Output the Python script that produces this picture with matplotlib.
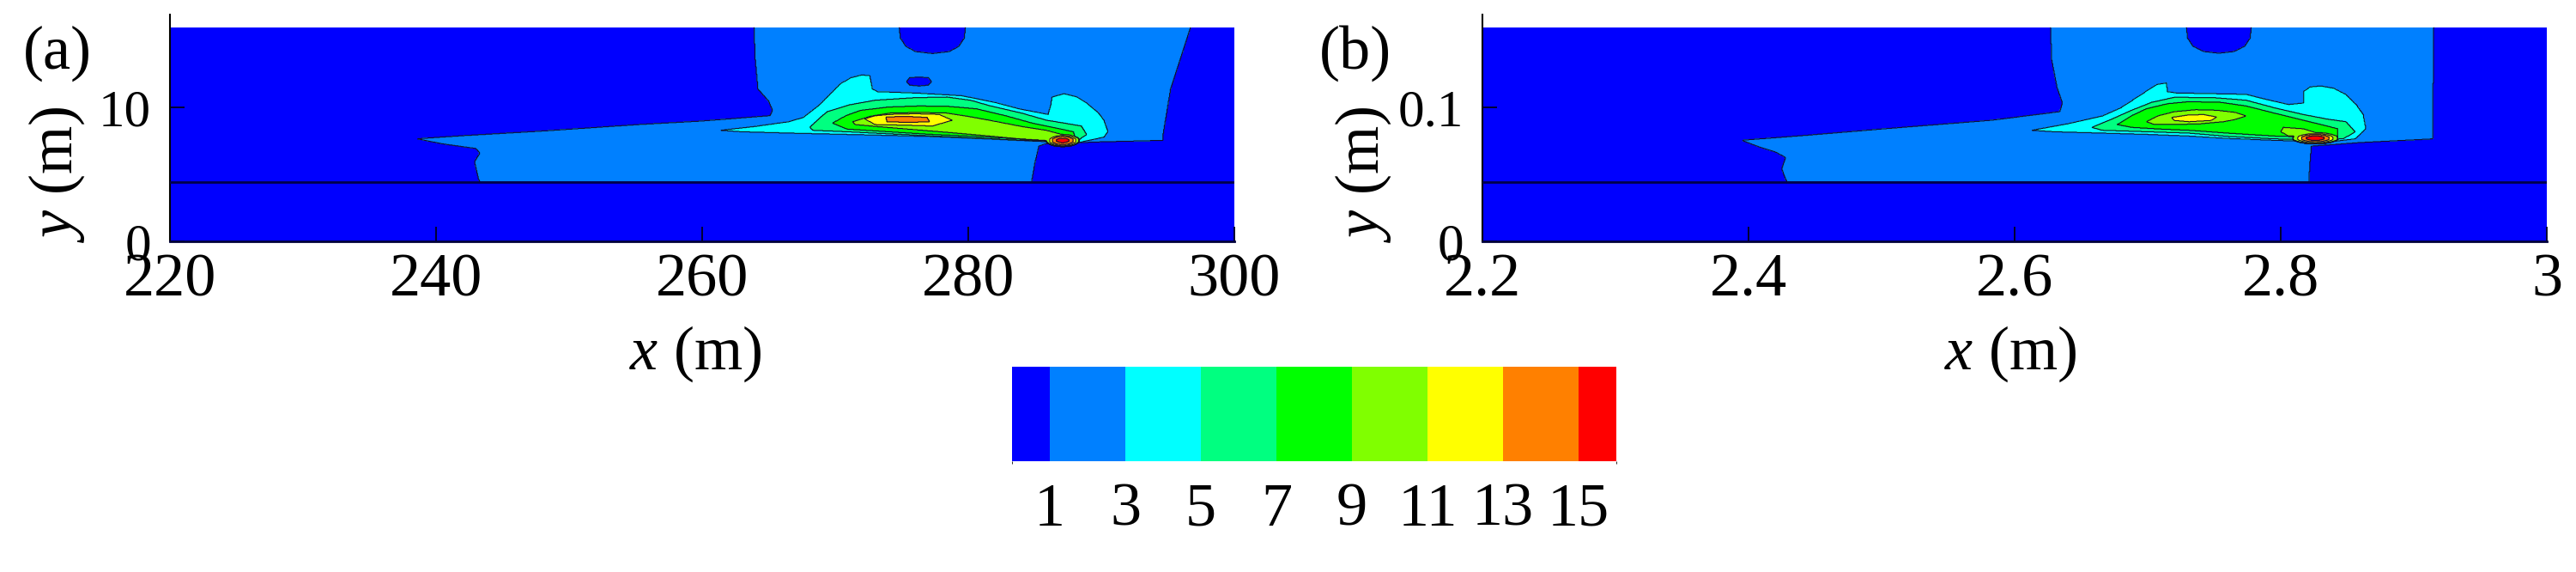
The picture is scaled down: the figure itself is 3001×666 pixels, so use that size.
import numpy as np
import matplotlib
matplotlib.use("Agg")
import matplotlib.pyplot as plt
from matplotlib.path import Path
from matplotlib.patches import Ellipse
from matplotlib.colors import ListedColormap, BoundaryNorm
from matplotlib.cm import ScalarMappable

plt.rcParams['font.family'] = ['Liberation Serif', 'DejaVu Serif']
plt.rcParams['mathtext.fontset'] = 'custom'
plt.rcParams['mathtext.it'] = 'Liberation Serif:italic'
plt.rcParams['mathtext.rm'] = 'Liberation Serif'

# ---------------- data ----------------
LEVELS = [0, 1, 3, 5, 7, 9, 11, 13, 15, 16]
CBAR_TICKS = [1, 3, 5, 7, 9, 11, 13, 15]
COLORS = ['#0000FF', '#0080FF', '#00FFFF', '#00FF80', '#00FF00',
          '#80FF00', '#FFFF00', '#FF8000', '#FF0000']
BACKGROUND = 0.5

# Panel (a): prototype scale
A_XLIM = [220, 300]
A_YTOP = 16.0
A_XTICKS = [220, 240, 260, 280, 300]
A_XTICKLABELS = ['220', '240', '260', '280', '300']
A_YTICKS = [0, 10]
A_YTICKLABELS = ['0', '10']
A_LINE_Y = 4.45

A_LIGHT = [(263.9, 16.0), (264.0, 13.6), (264.2, 11.4), (265.0, 10.5), (265.3, 9.8),
           (265.1, 9.4), (260.0, 9.0), (255.3, 8.74), (248.0, 8.25), (242.0, 7.9),
           (238.6, 7.67), (240.5, 7.3), (243.0, 6.95), (243.3, 6.6), (242.9, 5.96),
           (243.2, 4.67), (243.3, 4.45), (284.75, 4.45), (285.0, 5.85), (285.3, 7.13),
           (285.8, 7.3), (290.0, 7.45), (294.6, 7.56), (294.6, 7.78), (295.2, 11.4),
           (296.7, 16.0)]
A_CAP = [(274.8, 16.0), (274.9, 15.2), (275.3, 14.6), (276.0, 14.2), (277.3, 14.05),
         (278.6, 14.2), (279.3, 14.6), (279.7, 15.2), (279.8, 16.0)]
A_DOT = [(275.35, 11.95), (275.6, 12.25), (276.3, 12.3), (277.0, 12.25), (277.25, 11.95),
         (277.0, 11.68), (276.3, 11.62), (275.6, 11.68)]
A_CYAN = [(261.4, 8.31), (264.0, 8.6), (266.5, 8.95), (267.6, 9.27), (268.8, 10.2),
          (269.6, 11.0), (270.4, 11.8), (271.2, 12.25), (272.0, 12.45), (272.6, 12.4),
          (272.7, 11.9), (272.8, 11.4), (273.2, 11.2), (276.0, 11.1), (279.5, 10.9),
          (282.0, 10.4), (283.8, 9.92), (286.0, 9.5), (286.2, 10.2), (286.3, 10.8),
          (287.2, 11.05), (288.2, 10.8), (288.9, 10.35), (289.8, 9.6), (290.2, 9.06),
          (290.5, 8.2), (290.2, 7.8), (289.6, 7.67), (288.1, 7.35), (285.0, 7.5),
          (281.6, 7.67), (277.0, 7.85), (273.0, 7.95), (266.6, 8.1), (263.0, 8.2)]
A_SPRING = [(268.1, 8.55), (268.8, 9.2), (269.4, 9.7), (271.0, 10.2), (273.0, 10.56),
            (276.0, 10.75), (278.4, 10.8), (280.2, 10.55), (281.6, 10.15), (284.0, 9.6),
            (285.9, 9.06), (287.5, 8.8), (288.5, 8.63), (288.9, 7.99), (288.1, 7.46),
            (286.0, 7.5), (283.8, 7.56), (280.0, 7.75), (277.3, 7.88), (274.0, 8.05),
            (270.9, 8.2), (268.3, 8.31)]
A_GREEN = [(269.8, 8.85), (270.8, 9.4), (271.9, 9.8), (274.0, 10.05), (276.3, 10.13),
           (278.5, 10.1), (280.6, 9.92), (282.8, 9.4), (284.8, 8.85), (286.5, 8.5),
           (287.9, 8.2), (288.1, 7.56), (286.0, 7.6), (283.8, 7.67), (280.5, 7.85),
           (277.3, 8.0), (274.0, 8.2), (270.9, 8.4)]
A_LIME = [(271.3, 8.95), (272.6, 9.35), (274.1, 9.6), (276.3, 9.65), (278.4, 9.6),
          (280.0, 9.35), (281.6, 9.06), (284.0, 8.6), (285.9, 8.3), (287.9, 7.78),
          (287.0, 7.46), (284.0, 7.65), (281.6, 7.88), (278.5, 8.15), (275.2, 8.42),
          (273.0, 8.6), (271.5, 8.74)]
A_YELLOW = [(272.2, 9.17), (273.0, 9.4), (274.1, 9.5), (276.0, 9.55), (277.8, 9.5),
            (278.8, 9.06), (277.3, 8.63), (275.0, 8.7), (273.0, 8.74)]
A_ORANGE = [(273.8, 9.3), (275.3, 9.35), (276.9, 9.27), (277.1, 8.95), (275.5, 8.9),
            (273.9, 8.95)]
A_HOT_CENTER = (287.1, 7.55)
A_HOT_RX = [1.25, 1.0, 0.8, 0.5]
A_HOT_RY = [0.45, 0.37, 0.3, 0.17]
A_HOT_VAL = [10, 12, 14, 15.5]

# Panel (b): model scale
B_XLIM = [2.2, 3.0]
B_YTOP = 0.16
B_XTICKS = [2.2, 2.4, 2.6, 2.8, 3.0]
B_XTICKLABELS = ['2.2', '2.4', '2.6', '2.8', '3']
B_YTICKS = [0, 0.1]
B_YTICKLABELS = ['0', '0.1']
B_LINE_Y = 0.0445

B_LIGHT = [(2.627, 0.16), (2.628, 0.1356), (2.632, 0.115), (2.636, 0.1035), (2.634, 0.097),
           (2.583, 0.0906), (2.50, 0.084), (2.44, 0.079), (2.395, 0.0756), (2.41, 0.070),
           (2.420, 0.067), (2.428, 0.0628), (2.425, 0.0542), (2.428, 0.0467), (2.429, 0.0445),
           (2.821, 0.0445), (2.822, 0.060), (2.823, 0.0713), (2.86, 0.074), (2.914, 0.0767),
           (2.915, 0.16)]
B_CAP = [(2.729, 0.16), (2.730, 0.152), (2.734, 0.146), (2.742, 0.142), (2.7535, 0.1407),
         (2.765, 0.142), (2.773, 0.146), (2.777, 0.152), (2.778, 0.16)]
B_CYAN = [(2.613, 0.0831), (2.640, 0.088), (2.666, 0.0938), (2.680, 0.100), (2.692, 0.1078),
          (2.700, 0.113), (2.707, 0.1174), (2.714, 0.1185), (2.715, 0.112), (2.722, 0.111),
          (2.750, 0.1105), (2.774, 0.110), (2.790, 0.106), (2.806, 0.1024), (2.817, 0.1035),
          (2.817, 0.112), (2.822, 0.1155), (2.830, 0.1163), (2.840, 0.1145), (2.849, 0.1099),
          (2.857, 0.102), (2.862, 0.0949), (2.864, 0.0842), (2.856, 0.0767), (2.838, 0.0746),
          (2.820, 0.0748), (2.795, 0.0756), (2.760, 0.077), (2.731, 0.0788), (2.700, 0.080),
          (2.666, 0.081), (2.630, 0.082)]
B_SPRING = [(2.658, 0.0853), (2.672, 0.091), (2.688, 0.0981), (2.703, 0.104), (2.720, 0.1078),
            (2.750, 0.1075), (2.774, 0.1056), (2.795, 0.100), (2.817, 0.0949), (2.835, 0.0915),
            (2.849, 0.0895), (2.856, 0.082), (2.847, 0.0767), (2.820, 0.076), (2.795, 0.0767),
            (2.760, 0.0785), (2.731, 0.081), (2.700, 0.082), (2.666, 0.0831)]
B_GREEN = [(2.677, 0.0874), (2.688, 0.094), (2.699, 0.0992), (2.715, 0.103), (2.731, 0.1045),
           (2.755, 0.104), (2.774, 0.1013), (2.795, 0.096), (2.817, 0.0906), (2.832, 0.087),
           (2.843, 0.0842), (2.843, 0.0778), (2.820, 0.078), (2.795, 0.0788), (2.760, 0.081),
           (2.731, 0.0831), (2.710, 0.084), (2.688, 0.0853)]
B_LIME1 = [(2.699, 0.0895), (2.708, 0.094), (2.720, 0.097), (2.736, 0.0985), (2.752, 0.0981),
           (2.766, 0.0965), (2.774, 0.0938), (2.765, 0.091), (2.757, 0.0895), (2.740, 0.088),
           (2.720, 0.0874), (2.705, 0.0875)]
B_LIME2 = [(2.802, 0.0853), (2.817, 0.0842), (2.826, 0.0815), (2.826, 0.0790), (2.806, 0.0788),
           (2.800, 0.082)]
B_YELLOW = [(2.718, 0.0927), (2.730, 0.0945), (2.742, 0.0949), (2.752, 0.0930), (2.748, 0.0905),
            (2.731, 0.0895), (2.720, 0.0905)]
B_HOT_CENTER = (2.826, 0.0772)
B_HOT_RX = [0.017, 0.0135, 0.0105, 0.007]
B_HOT_RY = [0.0042, 0.0034, 0.0027, 0.0017]
B_HOT_VAL = [10, 12, 14, 15.5]

A_REGIONS = [(A_LIGHT, 2), (A_CAP, BACKGROUND), (A_DOT, BACKGROUND), (A_CYAN, 4),
             (A_SPRING, 6), (A_GREEN, 8), (A_LIME, 10), (A_YELLOW, 12), (A_ORANGE, 14)]
B_REGIONS = [(B_LIGHT, 2), (B_CAP, BACKGROUND), (B_CYAN, 4), (B_SPRING, 6),
             (B_GREEN, 8), (B_LIME1, 10), (B_LIME2, 10), (B_YELLOW, 12)]


def build_field(xlim, ytop, regions, hot_c, hot_rx, hot_ry, hot_val):
    x = np.linspace(xlim[0], xlim[1], 1601)
    y = np.linspace(0, ytop, 521)
    X, Y = np.meshgrid(x, y)
    pts = np.column_stack([X.ravel(), Y.ravel()])
    Z = np.full(X.shape, BACKGROUND)
    for poly, val in regions:
        m = Path(poly).contains_points(pts).reshape(X.shape)
        Z[m] = val
    for rx, ry, val in zip(hot_rx, hot_ry, hot_val):
        e = Ellipse(hot_c, 2 * rx, 2 * ry)
        p = e.get_patch_transform().transform_path(e.get_path())
        m = p.contains_points(pts).reshape(X.shape)
        Z[m] = val
    return X, Y, Z


cmap = ListedColormap(COLORS)
norm = BoundaryNorm(LEVELS, cmap.N)

W, H = 3001, 666
fig = plt.figure(figsize=(W / 100, H / 100), dpi=100)

FS = 52
FS_Y = 44

def px2fig(x0, y0, x1, y1):
    return [x0 / W, 1 - y1 / H, (x1 - x0) / W, (y1 - y0) / H]

panels = [
    dict(rect=px2fig(198, 16.5, 1438, 281), xlim=A_XLIM, ytop=A_YTOP, regions=A_REGIONS,
         hot=(A_HOT_CENTER, A_HOT_RX, A_HOT_RY, A_HOT_VAL), xt=A_XTICKS, xtl=A_XTICKLABELS,
         yt=A_YTICKS, ytl=A_YTICKLABELS, line=A_LINE_Y, tag='(a)', tagx=67, ylx=66, xlx=810),
    dict(rect=px2fig(1727, 16.5, 2967, 281), xlim=B_XLIM, ytop=B_YTOP, regions=B_REGIONS,
         hot=(B_HOT_CENTER, B_HOT_RX, B_HOT_RY, B_HOT_VAL), xt=B_XTICKS, xtl=B_XTICKLABELS,
         yt=B_YTICKS, ytl=B_YTICKLABELS, line=B_LINE_Y, tag='(b)', tagx=1579, ylx=1588, xlx=2342),
]

for p in panels:
    ax = fig.add_axes(p['rect'])
    X, Y, Z = build_field(p['xlim'], p['ytop'], p['regions'], *p['hot'])
    ax.contourf(X, Y, Z, levels=LEVELS, cmap=cmap, norm=norm)
    ax.contour(X, Y, Z, levels=LEVELS[1:-1], colors='#10102a', linewidths=0.8)
    ax.axhline(p['line'], color='#00004a', lw=2.0, zorder=3)
    ax.set_xlim(p['xlim'])
    ax.set_ylim(0, p['ytop'] * 17.0 / 16.0)
    for s in ['top', 'right']:
        ax.spines[s].set_visible(False)
    ax.spines['left'].set_linewidth(1.5)
    ax.spines['bottom'].set_linewidth(2.0)
    ax.spines['bottom'].set_color('#00003a')
    ax.set_xticks(p['xt'])
    ax.set_xticklabels(p['xtl'])
    ax.set_yticks(p['yt'])
    ax.set_yticklabels(p['ytl'])
    ax.tick_params(axis='both', direction='in', length=12, width=1.3, color='#000020')
    ax.tick_params(axis='x', pad=10, labelsize=FS)
    ax.tick_params(axis='y', pad=16, labelsize=FS_Y)
    fig.text(p['tagx'] / W, 1 - 62 / H, p['tag'], fontsize=FS, ha='center', va='center')
    fig.text(p['ylx'] / W, 1 - 203 / H, r'$y$ (m)', fontsize=FS, ha='center', va='center',
             rotation=90)
    fig.text(p['xlx'] / W, 1 - 412 / H, r'$x$ (m)', fontsize=FS, ha='center', va='center')

cax = fig.add_axes(px2fig(1179, 427, 1883, 537))
cb = fig.colorbar(ScalarMappable(norm=norm, cmap=cmap), cax=cax, orientation='horizontal',
                  ticks=CBAR_TICKS, spacing='proportional')
cb.outline.set_visible(False)
cax.tick_params(length=0, labelsize=FS, pad=18)
cb.set_ticklabels([str(t) for t in CBAR_TICKS])

fig.savefig('out.png', dpi=100)
